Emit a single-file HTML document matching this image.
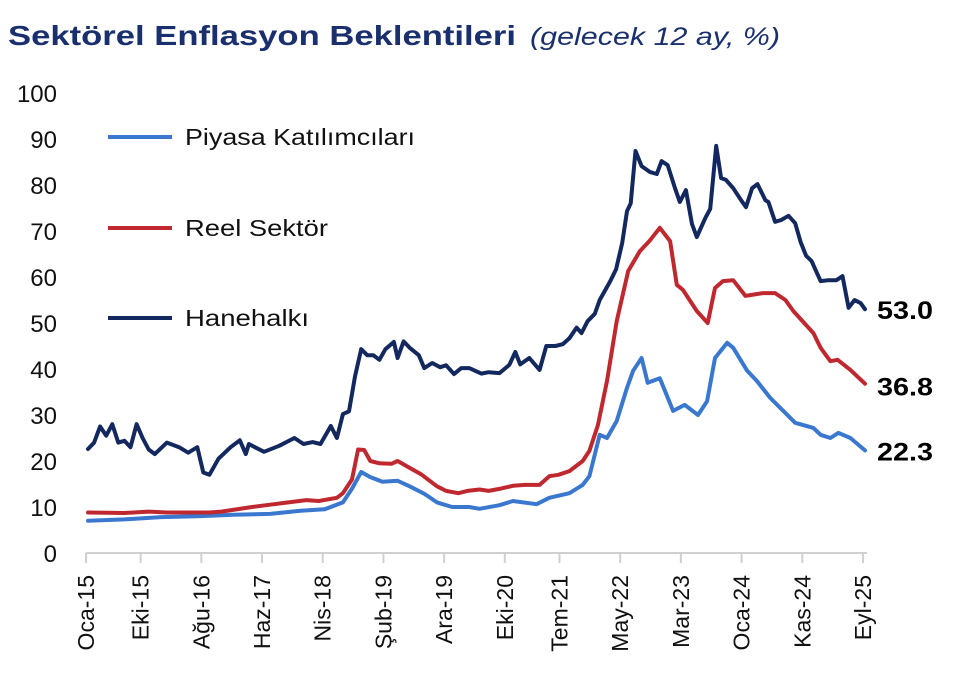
<!DOCTYPE html>
<html><head><meta charset="utf-8"><style>
body{margin:0;background:#fff;width:960px;height:690px;overflow:hidden;font-family:"Liberation Sans",sans-serif}
svg{display:block}
</style></head><body>
<svg id="chart" width="960" height="690">
<text x="8" y="45" font-size="28" font-weight="bold" fill="#1a2f6e" textLength="508" lengthAdjust="spacingAndGlyphs">Sektörel Enflasyon Beklentileri</text>
<text x="530" y="45" font-size="25" font-style="italic" fill="#1a2f6e" textLength="250" lengthAdjust="spacingAndGlyphs">(gelecek 12 ay, %)</text>
<g id="yaxis"></g>
<g id="xaxis"></g>
<g id="series"></g>
<g>
<line x1="108" y1="137" x2="172" y2="137" stroke="#3a78cf" stroke-width="4"/>
<text x="185" y="145" font-size="23" fill="#111" textLength="230" lengthAdjust="spacingAndGlyphs">Piyasa Katılımcıları</text>
<line x1="108" y1="228" x2="172" y2="228" stroke="#c0282f" stroke-width="4"/>
<text x="185" y="236" font-size="23" fill="#111" textLength="143" lengthAdjust="spacingAndGlyphs">Reel Sektör</text>
<line x1="108" y1="318" x2="172" y2="318" stroke="#13285e" stroke-width="4"/>
<text x="185" y="326" font-size="23" fill="#111" textLength="124" lengthAdjust="spacingAndGlyphs">Hanehalkı</text>
</g>
</svg>
<script>
const yTicks=[0,10,20,30,40,50,60,70,80,90,100];
const xTickLabels=["Oca-15","Eki-15","Ağu-16","Haz-17","Nis-18","Şub-19","Ara-19","Eki-20","Tem-21","May-22","Mar-23","Oca-24","Kas-24","Eyl-25"];
const xTickMonths=[0,9,19,29,39,49,59,69,78,88,98,108,118,128];
const haneMonths=[0,1,2,3,4,5,6,7,8,9,10,11,13,15,16.5,18,19,20,21.5,23.5,25,26,26.5,27.5,29,31.5,34,35.5,37,38.3,40,41,42,43,44,45,46,47,48,49,50.4,51,52,53,54.5,55.4,56.7,58,59,60.3,61.5,62.8,64.8,66,67.8,69.4,70.4,71.2,72.7,74.4,75.5,77,78.2,79.3,80.5,81.3,82.3,83.5,84.3,86,87,88,88.8,89.4,90.2,91.2,92.6,93.7,94.5,95.5,96.7,97.5,98.5,99.5,100.3,101.7,102.5,103.5,104.3,105.1,106.3,107.6,108.4,109.4,110.3,111.6,112.1,113.2,114.2,115.4,116.5,117.4,118.3,119.2,120.7,122,123.3,124.3,125.3,126.3,127.3,128];
const haneValues=[22.6,24,27.5,25.5,28,24,24.4,23,28,25,22.5,21.5,24,23,21.8,23,17.5,17,20.5,23,24.5,21.5,23.7,23,22,23.3,25,23.7,24.1,23.7,27.6,25,30.2,30.8,38.5,44.3,43,43,42,44.3,45.9,42.4,46,44.6,43,40.2,41.3,40.4,40.8,38.9,40.2,40.2,39,39.3,39.1,40.9,43.7,41,42.4,39.8,45,45,45.4,46.7,49,47.8,50.4,52,55,59,61.7,67.4,74.3,76,87.4,84.1,82.8,82.4,85.2,84.3,79.3,76.3,78.9,71.5,68.7,72.8,74.8,88.5,81.5,81.1,79.3,76.7,75.2,79.3,80.2,76.7,76.3,72,72.4,73.3,71.7,67.6,64.6,63.5,59.1,59.3,59.3,60.2,53.3,55,54.3,53.0];
const reelMonths=[0,6,10,13,20,22,27,30,33,36,38,41,42,43.5,44.5,45.5,46.5,48,50,51,53,55,56,57.5,59,61,62.5,64.5,66,68,70,72,74.4,76,77.5,79.3,81.5,82.6,84,85.5,87.1,89,90.9,92.6,94.2,95.9,97,98,100.3,102.1,103.3,104.6,106.3,108.3,111.2,113.2,114.9,116.2,119.5,120.7,122.3,123.5,125.6,128];
const reelValues=[8.8,8.7,9,8.8,8.8,9,10,10.5,11,11.5,11.3,12,13,16,22.5,22.4,20,19.5,19.4,20,18.5,17,16,14.5,13.5,13,13.5,13.8,13.5,14,14.6,14.8,14.8,16.7,17,17.8,20,22.2,27.8,37.4,50.4,61.3,65.6,68,70.7,67.8,58.3,57.2,52.6,50,57.6,59.1,59.3,55.9,56.5,56.5,55,52.6,47.8,44.6,41.7,42,39.8,36.8];
const piyasaMonths=[0,6,12,18,24,30,35,39,42,43.5,45,46.5,48.5,51,53,55.5,57.5,60,62.8,64.5,67.8,70,73.9,76,79.3,81.5,82.6,84.3,85.5,87.1,88.8,89.8,91.2,92.2,94.2,96.4,98.3,100.5,102,103.3,105.3,106.3,108.6,110.2,112.4,116.5,119.5,120.7,122.3,123.6,125.6,128];
const piyasaValues=[7,7.3,7.8,8,8.3,8.5,9.2,9.5,11,14,17.6,16.5,15.5,15.7,14.5,12.8,11,10,10,9.6,10.4,11.3,10.6,12,13,14.8,16.7,25.7,25,28.7,35.9,39.6,42.4,37,38,30.9,32.2,30,33,42.4,45.7,44.6,39.6,37.4,33.7,28.3,27.2,25.7,25,26.1,25,22.3];
const endLabels=["53.0","36.8","22.3"];

const NS="http://www.w3.org/2000/svg";
const X0=88,PX=6.07,Y0=553,PY=4.6;
const xs=m=>X0+m*PX, ys=v=>Y0-v*PY;
function mk(tag,attrs,parent){const e=document.createElementNS(NS,tag);for(const k in attrs)e.setAttribute(k,attrs[k]);parent.appendChild(e);return e;}
const yg=document.getElementById('yaxis'),xg=document.getElementById('xaxis'),sg=document.getElementById('series');
yTicks.forEach(v=>{const t=mk('text',{x:57,y:ys(v)+9,'text-anchor':'end','font-size':24,fill:'#111'},yg);t.textContent=v;

});
const ax=mk('line',{x1:86,y1:Y0,x2:xs(128)+2,y2:Y0,stroke:'#d0d0d0','stroke-width':2},xg);


xTickMonths.forEach((m,i)=>{const x=xs(m)-2;
const tk=mk('line',{x1:x,y1:Y0,x2:x,y2:Y0+10,stroke:'#d0d0d0','stroke-width':2},xg);


const t=mk('text',{x:0,y:0,'text-anchor':'end','font-size':23,fill:'#111',transform:`translate(${x+8},${Y0+22}) rotate(-90)`},xg);t.textContent=xTickLabels[i];

});
function line(ms,vs,color,name){const d=ms.map((m,i)=>(i?'L':'M')+xs(m).toFixed(1)+','+ys(vs[i]).toFixed(1)).join('');
const p=mk('path',{d:d,fill:'none',stroke:color,'stroke-width':4,'stroke-linejoin':'round','stroke-linecap':'round'},sg);

return p;}
line(piyasaMonths,piyasaValues,'#3a78cf','piyasa-line');
line(reelMonths,reelValues,'#c0282f','reel-sektor-line');
line(haneMonths,haneValues,'#13285e','hanehalki-line');
const lastVals=[haneValues[haneValues.length-1],reelValues[reelValues.length-1],piyasaValues[piyasaValues.length-1]];
const lblY=[ys(53)+10,ys(36.8)+12,ys(22.3)+10];
lastVals.forEach((v,i)=>{const t=mk('text',{x:877,y:lblY[i],'font-size':25,'font-weight':'bold',fill:'#000',textLength:56,lengthAdjust:'spacingAndGlyphs'},sg);t.textContent=endLabels[i];

});
</script>
</body></html>
